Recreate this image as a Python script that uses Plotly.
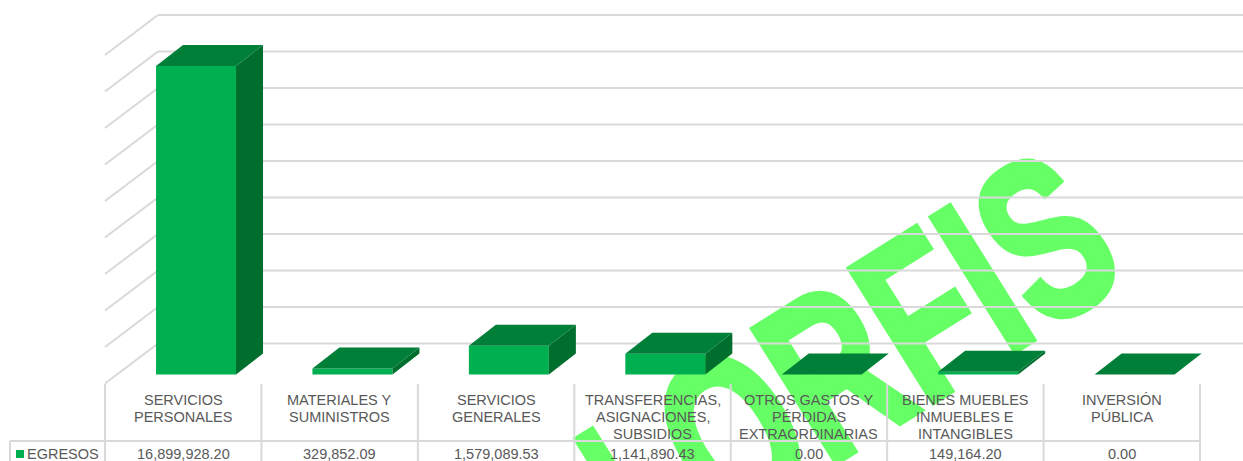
import plotly.graph_objects as go

W, H = 1243, 461
categories = ["SERVICIOS<br>PERSONALES", "MATERIALES Y<br>SUMINISTROS", "SERVICIOS<br>GENERALES",
              "TRANSFERENCIAS,<br>ASIGNACIONES,<br>SUBSIDIOS", "OTROS GASTOS Y<br>PÉRDIDAS<br>EXTRAORDINARIAS",
              "BIENES MUEBLES<br>INMUEBLES E<br>INTANGIBLES", "INVERSIÓN<br>PÚBLICA"]
egresos = [16899928.20, 329852.09, 1579089.53, 1141890.43, 0.00, 149164.20, 0.00]
ticks = [0, 2e6, 4e6, 6e6, 8e6, 10e6, 12e6, 14e6, 16e6, 18e6]
series_name = "EGRESOS"
watermark = "N ORFIS"

# pixel geometry
COL = 156.43; LEFT = 105.0; Y0 = 374.5; PXV = 18.25e-6
xpx = lambda i: LEFT + COL * (i + .5)
DX = 1 / COL          # data units per px in x
DY = 1 / PXV          # data units per px in y
xrange_ = [-xpx(0) * DX, (W - xpx(0)) * DX]
yrange_ = [(Y0 - H) * DY, Y0 * DY]
BAR_W = 80 * DX; BAR_OFF = 12.8 * DX
DEP_X, DEP_Y = 27 * DX, 21 * DY
FRONT, TOP, SIDE, GRID, TXT = "#00B050", "#007F38", "#006E2C", "#D9D9D9", "#595959"
FONT = "Liberation Sans"

shapes = []
# watermark sits behind every mark
WM_CX, WM_CY = 807, 362
shapes.append(dict(type="rect", xref="paper", yref="paper", x0=(WM_CX - 300) / W, x1=(WM_CX + 300) / W,
                   y0=1 - (WM_CY + 300) / H, y1=1 - (WM_CY - 300) / H, line=dict(width=0),
                   fillcolor="rgba(0,0,0,0)", layer="below",
                   label=dict(text=watermark, textangle=-32, textposition="middle center",
                              font=dict(family=FONT, size=229, color="#66FF66", weight="bold"))))
# walls
for t in ticks:
    fy = t - 9 * DY
    for x0, y0, x1, y1 in [(-0.5, fy, -0.5 + 53 * DX, fy + 40 * DY), (-0.5 + 53 * DX, fy + 40 * DY, xrange_[1], fy + 40 * DY)]:
        shapes.append(dict(type="line", xref="x", yref="y", x0=x0, y0=y0, x1=x1, y1=y1,
                           line=dict(color=GRID, width=2), layer="below"))

fig = go.Figure()
xs = [i + BAR_OFF for i in range(len(egresos))]
fig.add_trace(go.Bar(x=xs, y=egresos, width=BAR_W, marker=dict(color=FRONT, line=dict(width=0)),
                     name=series_name, showlegend=False))
for x, v in zip(xs, egresos):
    l, r = x - BAR_W / 2, x + BAR_W / 2
    fig.add_trace(go.Scatter(x=[r, r + DEP_X, r + DEP_X, r, r], y=[0, DEP_Y, v + DEP_Y, v, 0], mode="lines",
                             fill="toself", fillcolor=SIDE, line=dict(width=0), hoverinfo="skip", showlegend=False))
    fig.add_trace(go.Scatter(x=[l, r, r + DEP_X, l + DEP_X, l], y=[v, v, v + DEP_Y, v + DEP_Y, v], mode="lines",
                             fill="toself", fillcolor=TOP, line=dict(width=0), hoverinfo="skip", showlegend=False))

# table lines
def ln(x0, y0, x1, y1):
    shapes.append(dict(type="line", xref="paper", yref="paper", x0=x0 / W, x1=x1 / W, y0=1 - y0 / H, y1=1 - y1 / H,
                       line=dict(color=GRID, width=2), layer="above"))
for i in range(len(categories) + 1):
    ln(LEFT + COL * i, 384, LEFT + COL * i, H)
ln(10, 441, LEFT + COL * 7, 441)
ln(10, 441, 10, H)

ann = []
font = dict(family=FONT, size=14.5, color=TXT)
for i, (c, v) in enumerate(zip(categories, egresos)):
    for k, part in enumerate(c.split("<br>")):
        ann.append(dict(x=i, xref="x", y=1 - (399.5 + 17.3 * k) / H, yref="paper", yanchor="middle", text=part,
                        showarrow=False, font=font, align="center"))
    ann.append(dict(x=i, xref="x", y=1 - 454 / H, yref="paper", yanchor="middle", text=f"{v:,.2f}", showarrow=False, font=font))
ann.append(dict(x=25 / W, xref="paper", xanchor="left", y=1 - 454 / H, yref="paper", yanchor="middle", text=series_name,
                showarrow=False, font=font))
shapes.append(dict(type="rect", xref="paper", yref="paper", x0=16 / W, x1=24 / W, y0=1 - 458 / H, y1=1 - 450 / H,
                   fillcolor=FRONT, line=dict(width=0), layer="above"))

fig.update_layout(width=W, height=H, margin=dict(l=0, r=0, t=0, b=0), paper_bgcolor="white", plot_bgcolor="rgba(0,0,0,0)",
                  showlegend=False, shapes=shapes, annotations=ann,
                  xaxis=dict(range=xrange_, visible=False, fixedrange=True),
                  yaxis=dict(range=yrange_, visible=False, fixedrange=True))
post = """
document.body.style.margin='0';
document.documentElement.style.overflow='hidden';
var wm=Array.from(document.querySelectorAll('svg text')).find(function(t){return t.textContent.indexOf('ORFIS')>=0;});
if(wm){wm.setAttribute('textLength','641');wm.setAttribute('lengthAdjust','spacingAndGlyphs');
wm.style.stroke='#66FF66';wm.style.strokeWidth='6px';wm.style.strokeLinejoin='miter';}
"""
fig.write_html("out.html", config=dict(displayModeBar=False), post_script=post)
